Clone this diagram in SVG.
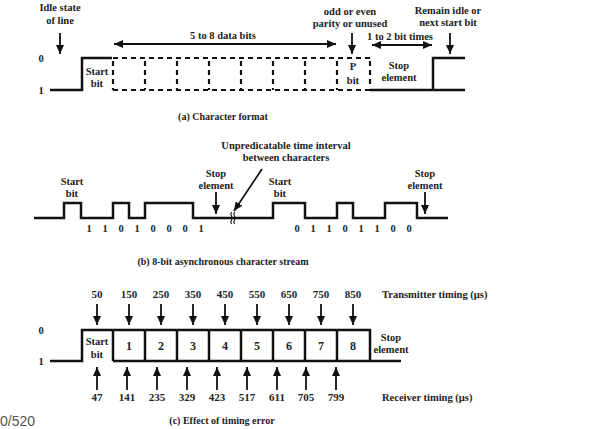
<svg xmlns="http://www.w3.org/2000/svg" width="593" height="429" viewBox="0 0 593 429">
<defs>
<marker id="ah" markerUnits="userSpaceOnUse" markerWidth="9" markerHeight="8" viewBox="0 0 9 8" refX="9" refY="4" orient="auto-start-reverse">
<path d="M0,0 L9,4 L0,8 z" fill="#111"/>
</marker>
<style>
text{font-family:"Liberation Serif","Times New Roman",serif;font-weight:bold;font-size:10.5px;fill:#222;text-anchor:middle}
.st{text-anchor:start}
.cap{font-size:10px}
.num{font-size:11px}
.big{font-size:12px}
.w{fill:none;stroke:#111;stroke-width:2.5;stroke-linejoin:miter}
.d{fill:none;stroke:#111;stroke-width:2.2;stroke-dasharray:5 4}
.a{fill:none;stroke:#111;stroke-width:1.8;marker-end:url(#ah)}
.aa{fill:none;stroke:#111;stroke-width:1.8;marker-end:url(#ah);marker-start:url(#ah)}
.pg{font-family:"Liberation Sans",Arial,sans-serif;font-weight:normal;font-size:14px;fill:#555;text-anchor:start}
</style>
</defs>
<rect width="593" height="429" fill="#fff"/>

<g id="partA">
<text x="60" y="11">Idle state</text>
<text x="60" y="24">of line</text>
<text x="350" y="15">odd or even</text>
<text x="350" y="27">parity or unused</text>
<text x="448" y="14">Remain idle or</text>
<text x="448" y="26">next start bit</text>
<text x="223" y="39">5 to 8 data bits</text>
<text x="400" y="40">1 to 2 bit times</text>
<text x="41" y="62">0</text>
<text x="41" y="94">1</text>
<text x="97" y="74.5">Start</text>
<text x="97" y="86.5">bit</text>
<text x="353" y="70">P</text>
<text x="353" y="84">bit</text>
<text x="399" y="69">Stop</text>
<text x="399" y="81">element</text>
<text class="cap" x="223" y="120">(a) Character format</text>
<path class="w" d="M50,90 H82 V58 H112"/>
<path class="d" d="M113,58 H370 M113,90 H370"/>
<path class="d" d="M113,61 V90 M145,61 V90 M177,61 V90 M209,61 V90 M241,61 V90 M273,61 V90 M305,61 V90 M337,61 V90 M370,61 V88"/>
<path class="w" d="M370,90 H465 M433,90 V58 H465"/>
</g>

<g id="connectorsA">
<line class="a" x1="60" y1="33" x2="60" y2="54"/>
<line class="a" x1="352" y1="33" x2="352" y2="54"/>
<line class="a" x1="450" y1="33" x2="450" y2="54"/>
<line class="aa" x1="114" y1="44" x2="336" y2="44"/>
<line class="aa" x1="372" y1="45" x2="432" y2="45"/>
</g>

<g id="partB">
<text x="286" y="149">Unpredicatable time interval</text>
<text x="286" y="161">between characters</text>
<text x="72" y="185">Start</text>
<text x="72" y="196.5">bit</text>
<text x="280" y="185">Start</text>
<text x="280" y="196.5">bit</text>
<text x="216" y="176.5">Stop</text>
<text x="216" y="189">element</text>
<text x="425" y="176.5">Stop</text>
<text x="425" y="189">element</text>
<path class="w" d="M34,218 H64 V203 H81 V218 H113 V203 H129 V218 H145 V203 H193 V218 H273 V203 H305 V218 H337 V203 H353 V218 H385 V203 H417 V218 H448"/>
<path d="M231.5,212 q-1.5,2 0,4 q1.5,2 0,4 q-1.5,2 0,4 M234.5,212 q-1.5,2 0,4 q1.5,2 0,4 q-1.5,2 0,4" fill="none" stroke="#111" stroke-width="1.2"/>
<g class="bits">
<text x="89" y="231.5">1</text><text x="105" y="231.5">1</text><text x="121" y="231.5">0</text><text x="137" y="231.5">1</text><text x="153" y="231.5">0</text><text x="169" y="231.5">0</text><text x="185" y="231.5">0</text><text x="201" y="231.5">1</text>
<text x="297" y="231.5">0</text><text x="313" y="231.5">1</text><text x="329" y="231.5">1</text><text x="345" y="231.5">0</text><text x="361" y="231.5">1</text><text x="377" y="231.5">1</text><text x="393" y="231.5">0</text><text x="409" y="231.5">0</text>
</g>
<text class="cap" x="223" y="264.5">(b) 8-bit asynchronous character stream</text>
</g>

<g id="connectorsB">
<line class="a" x1="216" y1="192" x2="216" y2="214"/>
<line class="a" x1="425" y1="192" x2="425" y2="214"/>
<line class="a" x1="262" y1="169" x2="234" y2="211"/>
</g>

<g id="partC">
<text x="41" y="334">0</text>
<text x="41" y="365">1</text>
<path class="w" d="M50,361 H82 V330 H370 V361 M113,361 H401 M113,330 V361 M145,330 V361 M177,330 V361 M209,330 V361 M241,330 V361 M273,330 V361 M305,330 V361 M337,330 V361"/>
<text x="97" y="344.5">Start</text>
<text x="97" y="357.5">bit</text>
<text class="big" x="129" y="350">1</text>
<text class="big" x="161" y="350">2</text>
<text class="big" x="193" y="350">3</text>
<text class="big" x="225" y="350">4</text>
<text class="big" x="257" y="350">5</text>
<text class="big" x="289" y="350">6</text>
<text class="big" x="321" y="350">7</text>
<text class="big" x="353" y="350">8</text>
<text x="391" y="340.5">Stop</text>
<text x="391" y="353">element</text>
<g class="tx">
<text class="num" x="97" y="298">50</text><text class="num" x="129" y="298">150</text><text class="num" x="161" y="298">250</text><text class="num" x="193" y="298">350</text><text class="num" x="225" y="298">450</text><text class="num" x="257" y="298">550</text><text class="num" x="289" y="298">650</text><text class="num" x="321" y="298">750</text><text class="num" x="353" y="298">850</text>
</g>
<g class="rx">
<text class="num" x="97" y="400.5">47</text><text class="num" x="127" y="400.5">141</text><text class="num" x="157" y="400.5">235</text><text class="num" x="187" y="400.5">329</text><text class="num" x="217" y="400.5">423</text><text class="num" x="247" y="400.5">517</text><text class="num" x="277" y="400.5">611</text><text class="num" x="306" y="400.5">705</text><text class="num" x="336" y="400.5">799</text>
</g>
<text class="st" x="382" y="298">Transmitter timing (µs)</text>
<text class="st" x="382" y="400.5">Receiver timing (µs)</text>
<text class="cap" x="222" y="424">(c) Effect of timing error</text>
</g>

<g id="connectorsC">
<line class="a" x1="97" y1="304" x2="97" y2="325"/>
<line class="a" x1="129" y1="304" x2="129" y2="325"/>
<line class="a" x1="161" y1="304" x2="161" y2="325"/>
<line class="a" x1="193" y1="304" x2="193" y2="325"/>
<line class="a" x1="225" y1="304" x2="225" y2="325"/>
<line class="a" x1="257" y1="304" x2="257" y2="325"/>
<line class="a" x1="289" y1="304" x2="289" y2="325"/>
<line class="a" x1="321" y1="304" x2="321" y2="325"/>
<line class="a" x1="353" y1="304" x2="353" y2="325"/>
<line class="a" x1="97" y1="390" x2="97" y2="367"/>
<line class="a" x1="127" y1="390" x2="127" y2="367"/>
<line class="a" x1="157" y1="390" x2="157" y2="367"/>
<line class="a" x1="187" y1="390" x2="187" y2="367"/>
<line class="a" x1="217" y1="390" x2="217" y2="367"/>
<line class="a" x1="247" y1="390" x2="247" y2="367"/>
<line class="a" x1="277" y1="390" x2="277" y2="367"/>
<line class="a" x1="306" y1="390" x2="306" y2="367"/>
<line class="a" x1="336" y1="390" x2="336" y2="367"/>
</g>

<text class="pg" x="0" y="426">0/520</text>
</svg>
